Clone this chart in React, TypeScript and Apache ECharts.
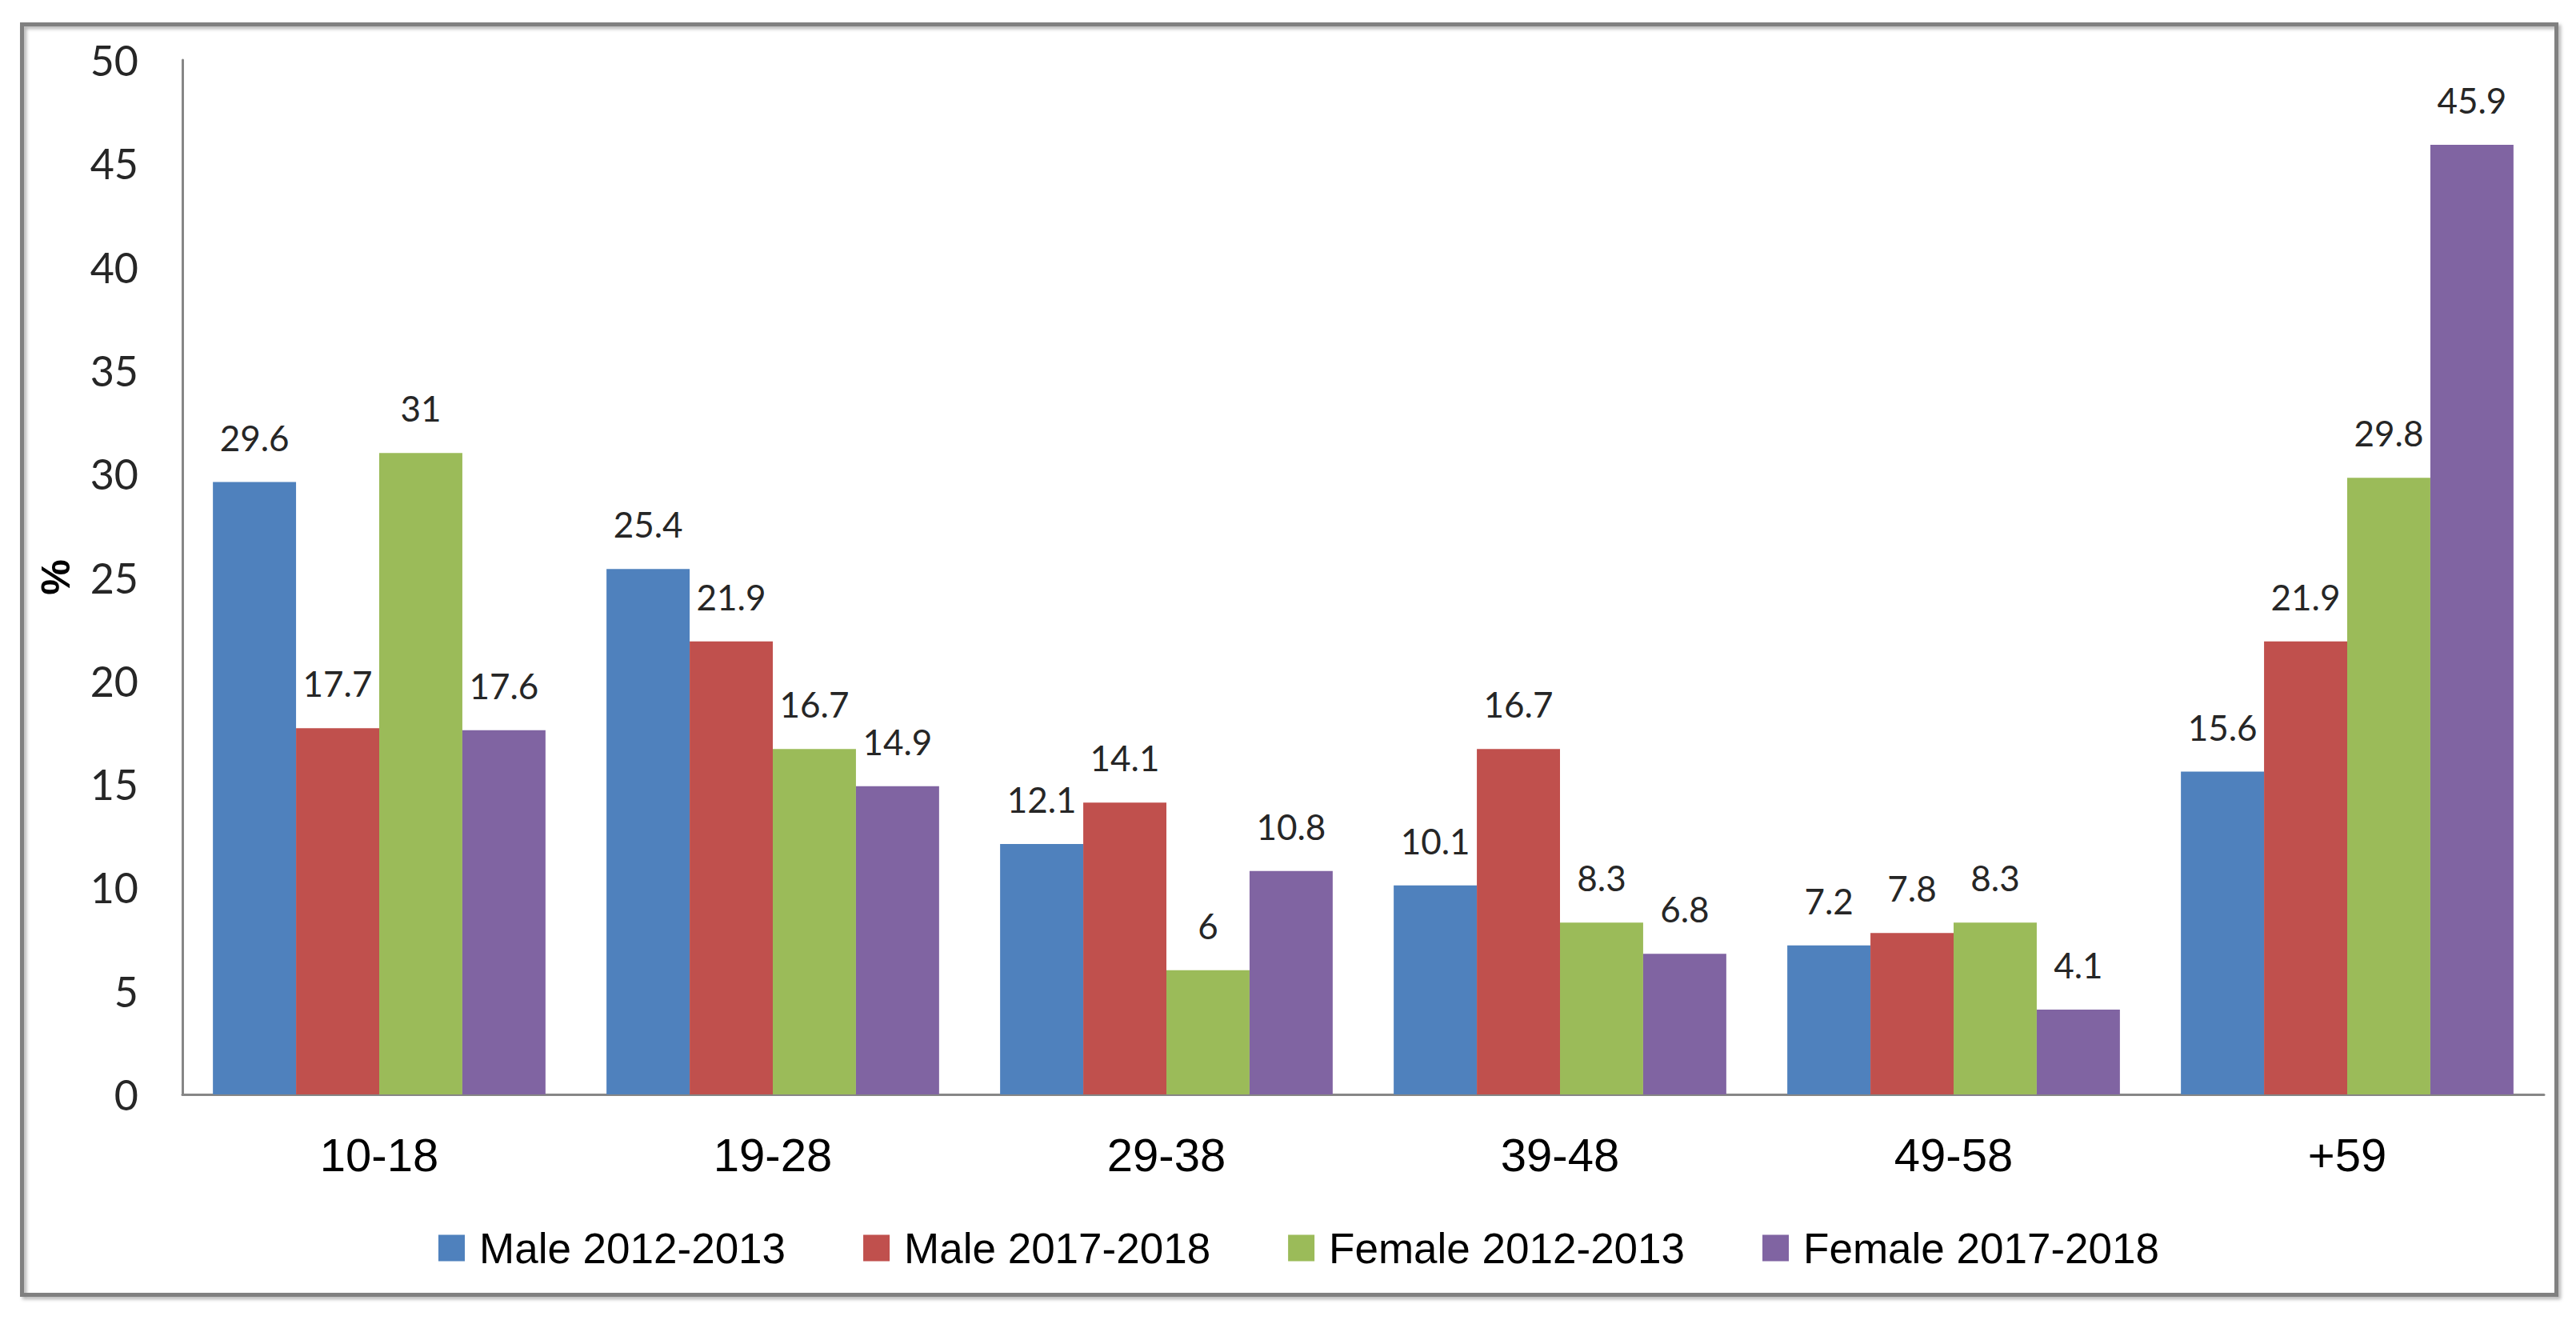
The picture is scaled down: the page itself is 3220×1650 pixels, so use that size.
import React, { useEffect, useRef } from "react";
import * as echarts from "echarts";

const categories = ["10-18", "19-28", "29-38", "39-48", "49-58", "+59"];
const seriesNames = ["Male 2012-2013", "Male 2017-2018", "Female 2012-2013", "Female 2017-2018"];
const male2012 = [29.6, 25.4, 12.1, 10.1, 7.2, 15.6];
const male2017 = [17.7, 21.9, 14.1, 16.7, 7.8, 21.9];
const female2012 = [31, 16.7, 6, 8.3, 8.3, 29.8];
const female2017 = [17.6, 14.9, 10.8, 6.8, 4.1, 45.9];
const colors = ["#4F81BD", "#C0504D", "#9BBB59", "#8064A2"];
const yTicks = { min: 0, max: 50, interval: 5 };

export default function App() {
  const ref = useRef<HTMLDivElement>(null);
  useEffect(() => {
    if (!ref.current) return;
    const chart = echarts.init(ref.current, undefined, { renderer: "svg" });
    const values = [male2012, male2017, female2012, female2017];
    chart.setOption({
      animation: false,
      backgroundColor: "#ffffff",
      graphic: [
        {
          type: "rect",
          left: 25,
          top: 28,
          z: -10,
          shape: { width: 3168, height: 1588 },
          style: {
            fill: "transparent",
            stroke: "#808080",
            lineWidth: 5,
            shadowBlur: 4,
            shadowOffsetX: 3,
            shadowOffsetY: 3,
            shadowColor: "rgba(0,0,0,0.3)",
          },
        },
      ],
      grid: { left: 228, right: 40, top: 75, bottom: 282, containLabel: false },
      legend: {
        left: 543,
        top: 1525,
        itemWidth: 33,
        itemHeight: 33,
        itemGap: 97,
        icon: "rect",
        data: seriesNames,
        textStyle: {
          fontFamily: "Liberation Sans",
          fontSize: 53,
          lineHeight: 60,
          color: "#000000",
          padding: [0, 0, 0, 13],
        },
      },
      xAxis: {
        type: "category",
        data: categories,
        axisTick: { show: false },
        axisLine: { show: true, lineStyle: { color: "#868686", width: 3 } },
        axisLabel: {
          fontFamily: "Liberation Sans",
          fontSize: 58,
          color: "#000000",
          margin: 46,
        },
      },
      yAxis: {
        type: "value",
        min: yTicks.min,
        max: yTicks.max,
        interval: yTicks.interval,
        name: "%",
        nameLocation: "middle",
        nameRotate: 90,
        nameGap: 133,
        nameTextStyle: {
          fontFamily: "Liberation Sans",
          fontSize: 50,
          fontWeight: "bold",
          color: "#000000",
        },
        axisTick: { show: false },
        splitLine: { show: false },
        axisLine: { show: true, lineStyle: { color: "#868686", width: 3 } },
        axisLabel: {
          fontFamily: "Lato",
          fontSize: 52,
          color: "#262626",
          margin: 55,
        },
      },
      series: seriesNames.map((name, i) => ({
        name,
        type: "bar",
        data: values[i],
        barGap: "0%",
        barCategoryGap: "15.5%",
        itemStyle: { color: colors[i] },
        label: {
          show: true,
          position: "top",
          distance: 34,
          fontFamily: "Lato",
          fontSize: 44,
          color: "#262626",
        },
      })),
    });
    return () => chart.dispose();
  }, []);
  return (
    <div
      ref={ref}
      style={{ position: "fixed", left: 0, top: 0, width: 3220, height: 1650 }}
    />
  );
}
